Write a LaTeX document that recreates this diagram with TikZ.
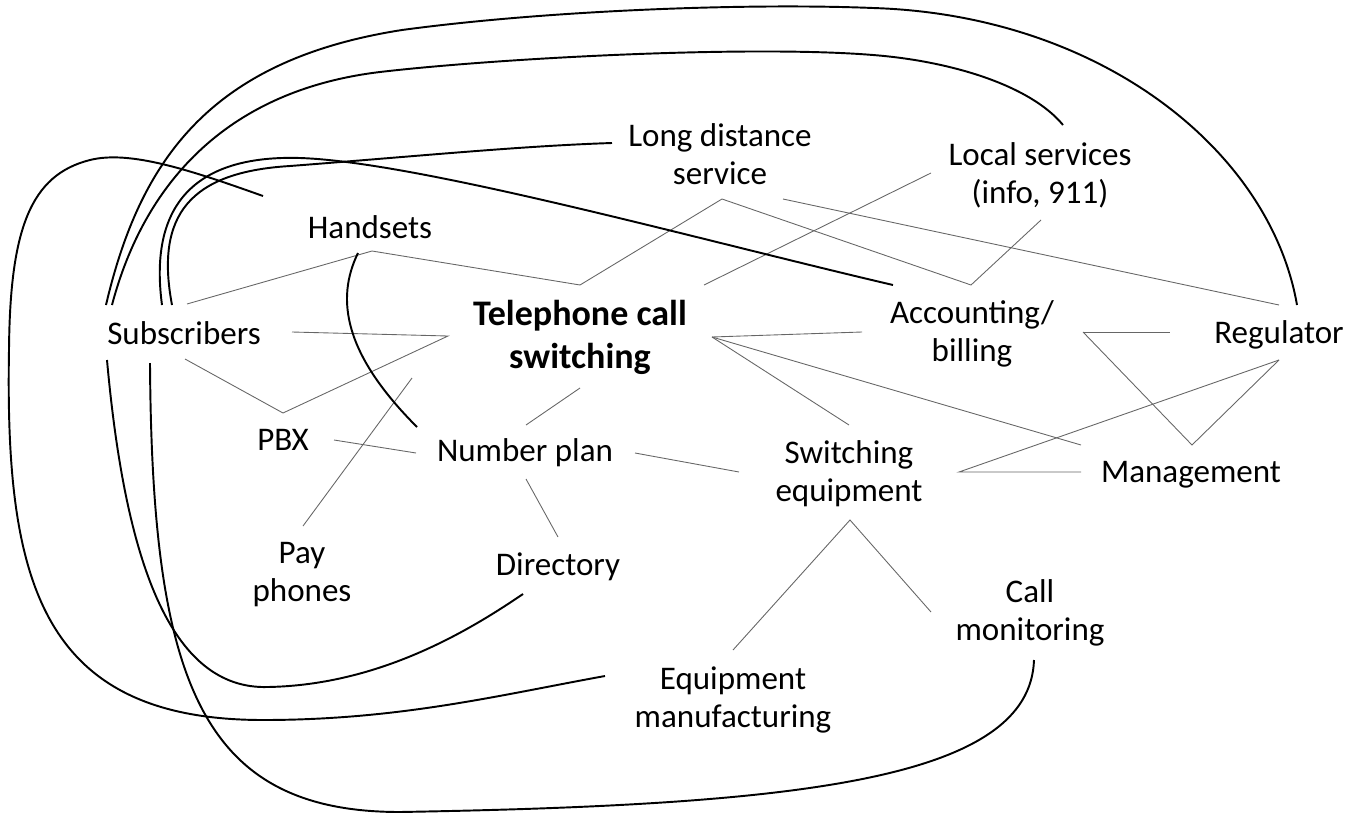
\documentclass[tikz,border=0pt]{standalone}
\usepackage{fontspec}
\setmainfont{Carlito}
\begin{document}
\begin{tikzpicture}[x=0.02cm,y=-0.02cm]
\tikzset{
 lbl/.style={align=center, font=\fontsize{18.8pt}{21.6pt}\selectfont, inner sep=0pt},
 mainlbl/.style={align=center, font=\fontsize{20.5pt}{24.4pt}\selectfont\bfseries, inner sep=0pt},
 lnk/.style={draw=black!60, line width=0.5pt},
 arc/.style={draw=black, line width=1.1pt},
}
\useasboundingbox (0,0) rectangle (1346,815);
% nodes
\node[lbl] (ld) at (720,154) {Long distance\\service};
\node[lbl] (loc) at (1040,175) {Local services\\(info, 911)};
\node[lbl] (hs) at (370,227) {Handsets};
\node[lbl] (sub) at (184,333) {Subscribers};
\node[mainlbl] (tcs) at (580,337) {Telephone call\\switching};
\node[lbl] (acc) at (972,334) {Accounting/\\billing};
\node[lbl] (reg) at (1279,335) {Regulator};
\node[lbl] (pbx) at (283,440) {PBX};
\node[lbl] (np) at (525,453) {Number plan};
\node[lbl] (sw) at (849,474) {Switching\\equipment};
\node[lbl] (mg) at (1191,475) {Management};
\node[lbl] (pay) at (302,575) {Pay\\phones};
\node[lbl] (dir) at (558,567) {Directory};
\node[lbl] (cm) at (1030,613) {Call\\monitoring};
\node[lbl] (em) at (733,700) {Equipment\\manufacturing};
% ports for thin links
\coordinate (sub-tr) at (187,304);
\coordinate (sub-r) at (292,332);
\coordinate (sub-br) at (185,359);
\coordinate (hs-b) at (372,251);
\coordinate (tcs-t) at (580,285);
\coordinate (tcs-tr) at (704,285);
\coordinate (tcs-l) at (448,336);
\coordinate (tcs-r) at (712,337);
\coordinate (tcs-b) at (580,388);
\coordinate (tcs-bl) at (412,378);
\coordinate (ld-b) at (722,199);
\coordinate (ld-r) at (783,199);
\coordinate (acc-t) at (971,285);
\coordinate (acc-l) at (862,332);
\coordinate (acc-r) at (1083,332);
\coordinate (loc-b) at (1041,220);
\coordinate (loc-l) at (931,173);
\coordinate (reg-l) at (1170,332);
\coordinate (reg-tl) at (1279,305);
\coordinate (reg-b) at (1279,360);
\coordinate (pbx-t) at (283,413);
\coordinate (pbx-r) at (334,440);
\coordinate (np-t) at (526,425);
\coordinate (np-l) at (416,453);
\coordinate (np-b) at (526,479);
\coordinate (np-r) at (635,453);
\coordinate (dir-t) at (558,537);
\coordinate (pay-t) at (303,526);
\coordinate (sw-t) at (849,425);
\coordinate (sw-l) at (739,472);
\coordinate (sw-r) at (959,472);
\coordinate (sw-b) at (850,520);
\coordinate (mg-tl) at (1081,445);
\coordinate (mg-t) at (1192,445);
\coordinate (mg-l) at (1081,472);
\coordinate (cm-t) at (931,612);
\coordinate (em-t) at (733,650);
% thin links
\draw[lnk] (sub-tr) -- (hs-b) -- (tcs-t) -- (ld-b) -- (acc-t) -- (loc-b);
\draw[lnk] (sub-r) -- (tcs-l) -- (pbx-t) -- (sub-br);
\draw[lnk] (pay-t) -- (tcs-bl);
\draw[lnk] (tcs-b) -- (np-t);
\draw[lnk] (pbx-r) -- (np-l);
\draw[lnk] (np-b) -- (dir-t);
\draw[lnk] (np-r) -- (sw-l);
\draw[lnk] (tcs-r) -- (sw-t);
\draw[lnk] (tcs-r) -- (mg-tl);
\draw[lnk] (tcs-r) -- (acc-l);
\draw[lnk] (acc-r) -- (reg-l);
\draw[lnk] (acc-r) -- (mg-t) -- (reg-b);
\draw[lnk] (reg-b) -- (sw-r) -- (mg-l);
\draw[lnk] (em-t) -- (sw-b) -- (cm-t);
\draw[lnk] (ld-r) -- (reg-tl);
\draw[lnk] (loc-l) -- (tcs-tr);
% ports for thick arcs
\coordinate (sub-a) at (106,305);
\coordinate (sub-b) at (112,305);
\coordinate (sub-c) at (162,305);
\coordinate (sub-d) at (172,305);
\coordinate (sub-e) at (107,360);
\coordinate (sub-f) at (150,363);
\coordinate (reg-top) at (1297,305);
\coordinate (loc-top) at (1063,125);
\coordinate (ld-l) at (612,143);
\coordinate (acc-tl) at (893,285);
\coordinate (hs-tl) at (263,196);
\coordinate (hs-bl) at (358,253);
\coordinate (np-tl) at (417,427);
\coordinate (em-l) at (605,676);
\coordinate (dir-b) at (523,594);
\coordinate (cm-b) at (1034,660);
% thick arcs
\draw[arc] (sub-a) .. controls (140,160) and (210,60) .. (402,30)
  .. controls (550,10) and (750,3) .. (873,8)
  .. controls (1100,15) and (1270,150) .. (reg-top);
\draw[arc] (sub-b) .. controls (145,180) and (230,90) .. (380,72)
  .. controls (500,58) and (750,45) .. (873,55)
  .. controls (950,61) and (1030,85) .. (loc-top);
\draw[arc] (sub-d) .. controls (155,215) and (190,172) .. (290,166)
  .. controls (420,156) and (520,146) .. (ld-l);
\draw[arc] (sub-c) .. controls (148,200) and (200,155) .. (300,158)
  .. controls (420,162) and (700,240) .. (acc-tl);
\draw[arc] (hs-tl) .. controls (190,170) and (130,150) .. (90,160)
  .. controls (30,175) and (10,230) .. (9,350)
  .. controls (5,580) and (40,720) .. (263,720)
  .. controls (400,720) and (500,695) .. (em-l);
\draw[arc] (hs-bl) .. controls (335,300) and (345,355) .. (np-tl);
\draw[arc] (sub-e) .. controls (125,560) and (170,690) .. (268,687)
  .. controls (380,685) and (470,630) .. (dir-b);
\draw[arc] (sub-f) .. controls (152,680) and (200,812) .. (400,812)
  .. controls (800,805) and (1030,780) .. (cm-b);
\end{tikzpicture}
\end{document}
